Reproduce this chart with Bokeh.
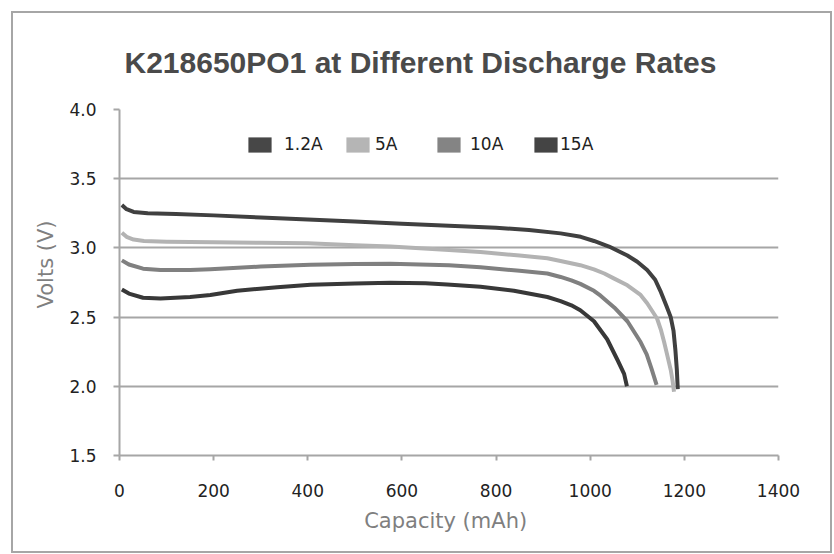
from bokeh.plotting import figure
from bokeh.models import Range1d, FixedTicker, Legend, LegendItem, Title
from bokeh.embed import file_html
from bokeh.resources import INLINE

# ---------------- data ----------------
title_text = "K218650PO1 at Different Discharge Rates"
x_label = "Capacity  (mAh)"
y_label = "Volts  (V)"
series_names = ["1.2A", "5A", "10A", "15A"]
x_ticks = [0, 200, 400, 600, 800, 1000, 1200, 1400]
y_ticks = [1.5, 2.0, 2.5, 3.0, 3.5, 4.0]
y_tick_labels = ["1.5", "2.0", "2.5", "3.0", "3.5", "4.0"]

cap_1_2A = [5, 15, 30, 60, 120, 200, 300, 400, 500, 600, 700, 800, 870, 937, 980, 1008,
            1040, 1079, 1100, 1121, 1138, 1149, 1162, 1171, 1177, 1181, 1184, 1186]
volt_1_2A = [3.31, 3.28, 3.26, 3.25, 3.245, 3.235, 3.22, 3.205, 3.19, 3.175, 3.16, 3.145, 3.13, 3.105, 3.08, 3.05,
             3.01, 2.945, 2.90, 2.84, 2.77, 2.69, 2.58, 2.50, 2.40, 2.26, 2.12, 1.98]

cap_5A = [5, 15, 30, 52, 100, 200, 300, 400, 500, 576, 700, 767, 850, 909, 937, 979, 1008,
          1030, 1050, 1079, 1107, 1121, 1142, 1150, 1157, 1164, 1171, 1175, 1178]
volt_5A = [3.11, 3.08, 3.06, 3.05, 3.045, 3.04, 3.037, 3.034, 3.02, 3.01, 2.985, 2.97, 2.945, 2.925, 2.905, 2.875, 2.845,
           2.815, 2.78, 2.73, 2.66, 2.60, 2.49, 2.41, 2.32, 2.22, 2.12, 2.04, 1.96]

cap_10A = [5, 20, 50, 87, 150, 193, 300, 406, 500, 576, 700, 767, 850, 909, 937, 960, 979, 1008,
           1022, 1051, 1079, 1107, 1120, 1130, 1141]
volt_10A = [2.91, 2.88, 2.85, 2.84, 2.84, 2.845, 2.865, 2.878, 2.884, 2.885, 2.875, 2.86, 2.835, 2.815, 2.79, 2.765, 2.74, 2.69,
            2.655, 2.57, 2.47, 2.32, 2.23, 2.13, 2.01]

cap_15A = [5, 20, 50, 87, 150, 193, 250, 335, 406, 500, 576, 650, 696, 767, 838, 909, 937,
           960, 979, 1008, 1036, 1058, 1072, 1078]
volt_15A = [2.70, 2.67, 2.64, 2.635, 2.645, 2.66, 2.69, 2.716, 2.733, 2.743, 2.748, 2.745, 2.735, 2.72, 2.69, 2.645, 2.615,
            2.585, 2.55, 2.47, 2.34, 2.19, 2.09, 2.00]

caps = [cap_1_2A, cap_5A, cap_10A, cap_15A]
volts = [volt_1_2A, volt_5A, volt_10A, volt_15A]

# ---------------- styles ----------------
line_colors = ["#404040", "#b3b3b3", "#808080", "#383838"]
legend_colors = ["#474747", "#b5b5b5", "#848484", "#444444"]
grid_color = "#a6a6a6"
text_font = "DejaVu Sans"

p = figure(frame_width=659, frame_height=346,
           x_range=Range1d(0, 1400), y_range=Range1d(1.5, 4.0),
           output_backend="svg", toolbar_location=None,
           min_border_left=106, min_border_right=52, min_border_top=96, min_border_bottom=96,
           background_fill_color="white", border_fill_color="white")
p.outline_line_color = None
p.styles = {"border": "2px solid #a6a6a6", "margin-left": "11px", "margin-top": "11px"}

# title
p.title.text = title_text
p.title.align = "left"
p.title.offset = 5
p.title.vertical_align = "bottom"
p.title.standoff = 61
p.title.text_font = "Liberation Sans"
p.title.text_font_style = "bold"
p.title.text_font_size = "30px"
p.title.text_color = "#4a4a4a"

# axes
p.xaxis.ticker = FixedTicker(ticks=x_ticks)
p.yaxis.ticker = FixedTicker(ticks=y_ticks)
p.yaxis.major_label_overrides = {t: s for t, s in zip(y_ticks, y_tick_labels)}
for ax in (p.xaxis, p.yaxis):
    ax.axis_line_color = grid_color
    ax.axis_line_width = 2
    ax.major_tick_line_color = grid_color
    ax.major_tick_line_width = 2
    ax.major_tick_in = 0
    ax.minor_tick_line_color = None
    ax.major_label_text_font = text_font
    ax.major_label_text_font_size = "17px"
    ax.major_label_text_color = "#222222"
p.xaxis.major_tick_out = 5
p.yaxis.major_tick_out = 6
p.xaxis.major_label_standoff = 23
p.yaxis.major_label_standoff = 17

p.xaxis.axis_label = x_label
p.xaxis.axis_label_text_font = text_font
p.xaxis.axis_label_text_font_size = "21px"
p.xaxis.axis_label_text_font_style = "normal"
p.xaxis.axis_label_text_color = "#7f7f7f"
p.xaxis.axis_label_standoff = 9

p.xgrid.grid_line_color = None
p.ygrid.grid_line_color = grid_color
p.ygrid.grid_line_width = 2

# y label (placed in the left panel, a little above the frame centre as in the original)
p.add_layout(Title(text=y_label, align="left", offset=147, standoff=17, vertical_align="bottom",
                   text_font=text_font, text_font_size="21px", text_font_style="normal",
                   text_color="#7f7f7f"), "left")

# series
for cx, vy, col in zip(caps, volts, line_colors):
    p.line(cx, vy, line_color=col, line_width=4, line_join="round")

# legend (separate entries, Excel-like placement); swatch renderers hold no visible marks
nan = float("nan")
leg_x = [126, 224, 315, 412]
leg_standoff = [10, 3, 7, 0]
for name, col, lx, st in zip(series_names, legend_colors, leg_x, leg_standoff):
    swatch = p.quad(left=[nan], right=[nan], top=[nan], bottom=[nan], fill_color=col, line_color=None)
    leg = Legend(items=[LegendItem(label=name, renderers=[swatch])], location=(lx, 301),
                 orientation="horizontal", padding=0, margin=0, spacing=0,
                 border_line_color=None, background_fill_alpha=0,
                 glyph_width=29, glyph_height=19, label_height=19, label_standoff=st,
                 label_text_font=text_font, label_text_font_size="17px",
                 label_text_color="#222222")
    p.add_layout(leg)

open("out.html", "w").write(file_html(p, INLINE))
